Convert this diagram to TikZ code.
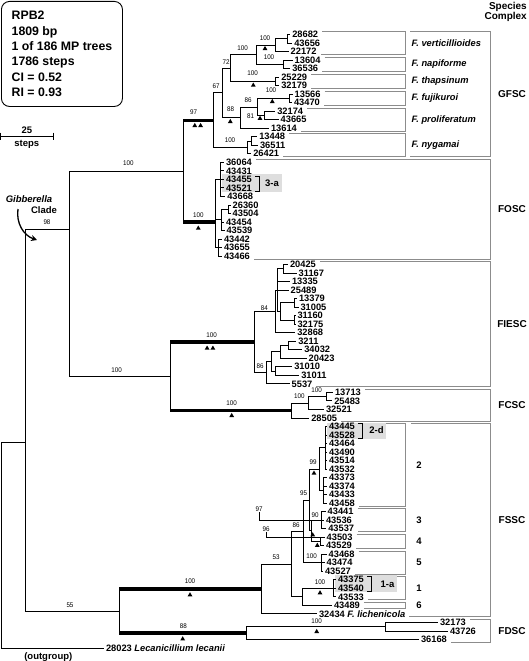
\documentclass[tikz,border=0pt]{standalone}
\usepackage{fontspec}
\setmainfont{Liberation Sans}
\newfontfamily\bsfont[FakeStretch=0.92]{Liberation Sans}
\usetikzlibrary{shapes.geometric,arrows.meta,calc,backgrounds}

% row position of the k-th taxon
\newcommand\ty[1]{34.5+8.52*#1}
% grey bracket from first to last taxon, closed at x = #3
\newcommand\grp[3]{\draw[brk] let \p1=(#1.east), \p2=(#2.east) in
  (\x1+2pt,\y1+3pt) -- (#3pt,\y1+3pt) -- (#3pt,\y2-3pt) -- (\x2+2pt,\y2-3pt);}
\newcommand\cgrp[4]{\draw[brk] let \p1=(#1.east), \p2=(#2.east) in
  (#3pt,\y1+3pt) -- (#4pt,\y1+3pt) -- (#4pt,\y2-3pt) -- (#3pt,\y2-3pt);}
% small black bracket in a shaded box
\newcommand\sbr[2]{\draw[line width=0.7pt] let \p1=(#1.east), \p2=(#2.east) in
  (\x1+1.5pt,\y1+3pt) -- (\x1+5.5pt,\y1+3pt) -- (\x1+5.5pt,\y2-3pt) -- (\x1+1.5pt,\y2-3pt);}

\tikzset{
  br/.style={line width=0.8pt, black},
  strong/.style={line width=3.2pt, black},
  brk/.style={line width=0.8pt, black!45},
  taxon/.style={anchor=west, inner xsep=1.8pt, inner ysep=0pt, font=\bfseries\fontsize{9.3}{9.3}\selectfont},
  spname/.style={anchor=west, inner sep=0pt, font=\bfseries\itshape\fontsize{9.3}{9.3}\selectfont},
  lab/.style={inner sep=0pt, font=\bfseries\fontsize{9.5}{9.5}\selectfont},
  cplx/.style={inner sep=0pt, font=\bfseries\fontsize{10}{10}\selectfont},
  bs/.style={inner sep=0pt, font=\bsfont\fontsize{6.8}{6.8}\selectfont},
  tri/.style={regular polygon, regular polygon sides=3, fill=black, inner sep=0pt, minimum size=5.6pt},
  shade/.style={fill=black!13},
}

\begin{document}
\begin{tikzpicture}[x=1pt,y=-1pt]
\useasboundingbox (0,0) rectangle (528,661);

% Info box
\node[draw, line width=0.9pt, rounded corners=8pt, anchor=north west, align=left,
  inner xsep=8.5pt, inner ysep=6pt, minimum width=121pt, minimum height=105pt,
  font=\bfseries\fontsize{12.3}{15.3}\selectfont] (info) at (1,1)
  {RPB2\\1809 bp\\1 of 186 MP trees\\1786 steps\\CI = 0.52\\RI = 0.93};

% Scale bar
\draw[br] (0.6,136) -- (53,136);
\draw[br] (0.6,132.5) -- (0.6,139.5);
\draw[br] (53,132.5) -- (53,139.5);
\node[lab] (sb25) at (26.8,130.5) {25};
\node[lab] (sbst) at (26.8,144) {steps};

% Taxa
\foreach \tx/\tn [count=\k from 0] in {
  290.3/28682, 292.3/43656, 288.7/22172, 292.7/13604, 290.3/36536, 279.3/25229,
  279.3/32179, 292.7/13566, 292/43470, 275.3/32174, 278.7/43665, 269/13614,
  257.3/13448, 258/36511, 251.3/26421,
  224/36064, 224/43431, 224/43455, 224/43521, 225.3/43668, 230.7/26360,
  230.7/43504, 224/43454, 224.5/43539, 222/43442, 222/43655, 222/43466,
  288/20425, 296.7/31167, 290/13335, 288.7/25489, 297/13379, 298.5/31005,
  295.5/31160, 295.5/32175, 295.3/32868, 296.3/3211, 302.3/34032, 306.7/20423,
  292.3/31010, 299.3/31011, 289.7/5537,
  333/13713, 332.3/25483, 324/32521, 309.3/28505,
  327/43445, 327/43528, 327/43464, 327/43490, 327/43514, 327/43532,
  327/43373, 327/43374, 327/43433, 327/43458,
  325.7/43441, 324/43536, 326.3/43537, 324.7/43503, 324/43529,
  326.7/43468, 324.7/43474, 323/43527,
  336/43375, 336/43540, 336/43533, 332/43489}
  \node[taxon] (t\tn) at (\tx,{\ty{\k}}) {\tn};
\foreach \tx/\tn [count=\k from 69] in {438/32173, 448/43726, 419/36168}
  \node[taxon] (t\tn) at (\tx,{\ty{\k}}) {\tn};
\node[taxon] (t32434) at (317,{\ty{68}}) {32434 \textit{F. lichenicola}};
\node[taxon] (t28023) at (104,{\ty{72}}) {28023 \textit{Lecanicillium lecanii}};
\node[lab] (outg) at (48.3,657.5) {(outgroup)};

\begin{scope}[on background layer]
% Brackets: species
\grp{t28682}{t22172}{405.5}
\grp{t13604}{t36536}{405.5}
\grp{t25229}{t32179}{405.5}
\grp{t13566}{t43470}{405.5}
\grp{t32174}{t13614}{405.5}
\grp{t13448}{t26421}{405.5}
\grp{t43445}{t43458}{405.5}
\grp{t43441}{t43537}{405.5}
\grp{t43503}{t43529}{405.5}
\grp{t43468}{t43527}{405.5}
\grp{t43375}{t43533}{405.5}
\grp{t43489}{t43489}{405.5}

% Brackets: species complexes
\cgrp{t28682}{t26421}{410}{490}
\grp{t36064}{t43466}{490}
\grp{t20425}{t5537}{490}
\grp{t13713}{t28505}{490}
\draw[brk] let \p1=(t43445.east), \p2=(t32434.east) in
  (411pt,\y1+3pt) -- (490pt,\y1+3pt) -- (490pt,\y2-3pt) -- (\x2+2pt,\y2-3pt);
\grp{t32173}{t36168}{490}

% Shaded haplotypes
\fill[shade] (222.3,174.3) rectangle (281.7,191.9);
\fill[shade] (326.7,422.5) rectangle (386,438.5);
\fill[shade] (335,575.3) rectangle (397,592.3);
\end{scope}
\sbr{t43455}{t43521}
\sbr{t43445}{t43528}
\sbr{t43375}{t43540}
\node[lab] (l3a) at (272,183.6) {3-a};
\node[lab] (l2d) at (376.5,430.5) {2-d};
\node[lab] (l1a) at (387.5,584) {1-a};

% Internal nodes
\foreach \n/\x/\k in {
  nVa/287.3/0.5, nVb/275/1.25, nNa/283.3/3.5, nVN/256/2.375, nTh/275/5.5,
  nVNT/230.7/3.9375, nFu/289.3/7.5, nPr/264.3/9.5, nFP/257/8.5, nFP2/240/9.75,
  nG1/222.7/6.84, nNy1/251.7/12.5, nNy/247.3/13.25, nGF/213.3/10.05,
  nO1/220.7/17, nO2/228.3/20.5, nO3/221/21.75, nO4/218.3/25, nOF/215/22,
  nR/183.3/16.02,
  n1a/283.3/27.5, n1b/294.5/31.5, n1c/294.5/33.5, n1d/280/32.5, n1e/277.7/30,
  nU/275/32.5, n2a/288.3/36.5, n2b/280/37.25, n2c/275/39.5, n2d/271.7/38.375,
  n2e/266/39.69, nIE/254.3/36.09,
  n3a/326.7/42.5, n3b/308/43.25, nCS/291/44.125, nT/170/40.11, nS2/69/22.83,
  n2A/325/48.5, n2B/323.3/53.5, n99/319.3/51, n3/321.7/57, n4/320/59.5,
  n34/311.7/58.25, n95/309.3/54.625, n5/321/62, n86/303.3/58.31, n1/333/65,
  n16/302.7/66, n53/291.7/62.16, nSS/261/65.08,
  nD1/385/69.5, nDS/246.7/70.25, n55/119.3/67.66, nGib/25.7/47.87, nRoot/1/59.9}
  \coordinate (\n) at (\x,{\ty{\k}});

% Branches
\foreach \p/\c in {
  nVa/t28682.west, nVa/t43656.west, nVb/nVa, nVb/t22172.west,
  nNa/t13604.west, nNa/t36536.west, nVN/nVb, nVN/nNa,
  nTh/t25229.west, nTh/t32179.west, nVNT/nVN, nVNT/nTh,
  nFu/t13566.west, nFu/t43470.west, nPr/t32174.west, nPr/t43665.west,
  nFP/nFu, nFP/nPr, nFP2/nFP, nFP2/t13614.west, nG1/nVNT, nG1/nFP2,
  nNy1/t13448.west, nNy1/t36511.west, nNy/nNy1, nNy/t26421.west,
  nGF/nG1, nGF/nNy,
  nO1/t36064.west, nO1/t43431.west, nO1/t43455.west, nO1/t43521.west, nO1/t43668.west,
  nO2/t26360.west, nO2/t43504.west, nO3/nO2, nO3/t43454.west, nO3/t43539.west,
  nO4/t43442.west, nO4/t43655.west, nO4/t43466.west,
  nOF/nO1, nOF/nO3, nOF/nO4, nS2/nR, nS2/nT,
  n1a/t20425.west, n1a/t31167.west, n1b/t13379.west, n1b/t31005.west,
  n1c/t31160.west, n1c/t32175.west, n1d/n1b, n1d/n1c,
  n1e/n1a, n1e/t13335.west, n1e/t25489.west, n1e/n1d, nU/n1e, nU/t32868.west,
  n2a/t3211.west, n2a/t34032.west, n2b/n2a, n2b/t20423.west,
  n2c/t31010.west, n2c/t31011.west, n2d/n2b, n2d/n2c, n2e/n2d, n2e/t5537.west,
  nIE/nU, nIE/n2e,
  n3a/t13713.west, n3a/t25483.west, n3b/n3a, n3b/t32521.west, nCS/n3b, nCS/t28505.west,
  n2A/t43445.west, n2A/t43528.west, n2A/t43464.west, n2A/t43490.west,
  n2A/t43514.west, n2A/t43532.west,
  n2B/t43373.west, n2B/t43374.west, n2B/t43433.west, n2B/t43458.west,
  n99/n2A, n99/n2B, n3/t43441.west, n3/t43536.west, n3/t43537.west,
  n4/t43503.west, n4/t43529.west, n34/n3, n34/n4, n95/n99, n95/n34,
  n5/t43468.west, n5/t43474.west, n5/t43527.west, n86/n95, n86/n5,
  n1/t43375.west, n1/t43540.west, n1/t43533.west, n16/n1, n16/t43489.west,
  n53/n86, n53/n16, nSS/n53, nSS/t32434.west,
  nD1/t32173.west, nD1/t43726.west, nDS/nD1, nDS/t36168.west,
  nGib/nS2, nGib/n55, nRoot/nGib, nRoot/t28023.west}
  \draw[br] (\p) |- (\c);
\foreach \p/\c in {nR/nGF, nR/nOF, nT/nIE, nT/nCS, n55/nSS, n55/nDS}{
  \draw[br] (\p) |- (\c);
  \draw[strong] (\p |- \c) -- (\c);
}

% Bootstrap values
\foreach \x/\y/\v [count=\i] in {
  265/38/100, 269/57.3/100, 242.7/47.7/100, 252.7/73.5/100, 226/62/72,
  271/90.5/100, 248/100.5/86, 250.7/116.5/81, 230.5/109.5/88, 216/86/67,
  230/140.5/100, 193.5/112.5/97, 198.3/215/100, 128.3/163.5/100,
  211.7/335.5/100, 264.3/308/84, 260/366.5/86,
  316.7/390.5/100, 299.3/396/100, 231.7/403/100, 116.7/370.5/100,
  313/462/99, 303.5/493.5/95, 315/515/90, 296/525.5/86, 311.7/556/100,
  276/557.5/53, 320/582/100, 190/581.5/100,
  316.7/621/100, 183.3/626/88, 70/605/55, 47/222.5/98}
  \node[bs] (bs\i) at (\x,\y) {\v};
\node[bs] (bsL97) at (259,509.5) {97};
\node[bs] (bsL96) at (266,529.5) {96};
\draw[br, line width=0.6pt] (bsL97.south) |- (n34 |- n3);
\draw[br, line width=0.6pt] (bsL96.south) |- (n4 |- t43503.west);

% Triangles
\foreach \x/\y [count=\i] in {
  265/48.7, 253.3/85.3, 272.3/101.7, 260/118.5, 230.3/121.7, 198.3/228.3,
  231.7/415.7, 314/473.3, 312.7/535, 317.3/545.5, 320/593, 190/595,
  182.7/639, 316.7/631.7}
  \node[tri] (tri\i) at (\x,\y) {};
\foreach \x/\y [count=\i] in {197.7/125.7, 210/348.3}{
  \node[tri] (dtl\i) at (\x-2.9,\y) {};
  \node[tri] (dtr\i) at (\x+2.9,\y) {};
}

% Species names
\foreach \k/\nm [count=\i] in {1/verticillioides, 3.5/napiforme, 5.5/thapsinum,
  7.5/fujikuroi, 10/proliferatum, 13/nygamai}
  \node[spname] (sp\i) at (411.5,{\ty{\k}}) {F. \nm};

% FSSC groups
\foreach \k/\g in {50.5/2, 57/3, 59.5/4, 62/5, 65/1, 67/6}
  \node[lab] (grp\g) at (419,{\ty{\k}}) {\g};

% Species complexes
\node[cplx, anchor=east] (hdr1) at (527,6.5) {Species};
\node[cplx, anchor=east] (hdr2) at (527,16.5) {Complex};
\foreach \k/\c in {7/GFSC, 20.5/FOSC, 34/FIESC, 43.5/FCSC, 57/FSSC, 70/FDSC}
  \node[cplx] (cx\c) at (512,{\ty{\k}}) {\c};

% Gibberella clade
\node[lab, font=\bfseries\itshape\fontsize{9.5}{9.5}\selectfont] (gib) at (29,199) {Gibberella};
\node[lab] (clade) at (44,210.5) {Clade};
\coordinate (arrS) at (18,209);
\coordinate (arrE) at (37,240);
\draw[line width=1.3pt, -{Stealth[length=6pt,width=6pt]}] (arrS) to[bend right=40] (arrE);

\end{tikzpicture}
\end{document}
